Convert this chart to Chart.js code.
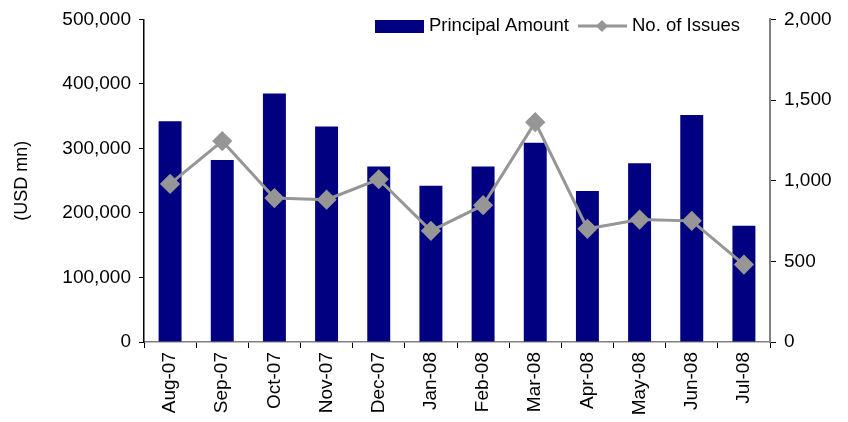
<!DOCTYPE html>
<html lang="en">
<head>
    <meta charset="UTF-8">
    <title>Principal Amount and No. of Issues</title>
    <style>
        body { margin: 0; background: #fff; }
    </style>
</head>
<body>
    <canvas id="issuesChart" width="848" height="422"></canvas>

    <script src="https://cdn.jsdelivr.net/npm/chart.js"></script>
    <script>
        // data
        const months = ['Aug-07', 'Sep-07', 'Oct-07', 'Nov-07', 'Dec-07', 'Jan-08',
                        'Feb-08', 'Mar-08', 'Apr-08', 'May-08', 'Jun-08', 'Jul-08'];
        const principalAmount = [342000, 282000, 385000, 334000, 272000, 242000,
                                 272000, 309000, 234000, 277000, 352000, 180000];
        const numberOfIssues = [980, 1246, 892, 882, 1009, 689,
                                848, 1363, 702, 759, 751, 480];

        const fontFamily = '"Liberation Sans", Arial, sans-serif';
        const barColor = '#000080';
        const lineColor = '#969696';

        // legend drawn inside the plot, top right
        const legendInside = {
            id: 'legendInside',
            afterDraw(chart) {
                const ctx = chart.ctx;
                ctx.save();
                ctx.font = '18.5px ' + fontFamily;
                ctx.textBaseline = 'middle';

                ctx.fillStyle = barColor;
                ctx.fillRect(375, 20, 49, 13);
                ctx.fillStyle = '#000';
                ctx.fillText('Principal Amount', 429, 26);

                ctx.strokeStyle = lineColor;
                ctx.lineWidth = 3;
                ctx.beginPath();
                ctx.moveTo(578, 26);
                ctx.lineTo(627, 26);
                ctx.stroke();
                ctx.fillStyle = lineColor;
                ctx.beginPath();
                ctx.moveTo(602, 20);
                ctx.lineTo(608, 26);
                ctx.lineTo(602, 32);
                ctx.lineTo(596, 26);
                ctx.closePath();
                ctx.fill();
                ctx.fillStyle = '#000';
                ctx.fillText('No. of Issues', 632, 26);
                ctx.restore();
            }
        };

        const ctx = document.getElementById('issuesChart').getContext('2d');
        new Chart(ctx, {
            data: {
                labels: months,
                datasets: [{
                    type: 'line',
                    label: 'No. of Issues',
                    data: numberOfIssues,
                    yAxisID: 'y1',
                    borderColor: lineColor,
                    backgroundColor: lineColor,
                    borderWidth: 3,
                    pointStyle: 'rectRot',
                    pointRadius: 8,
                    pointHoverRadius: 8,
                    tension: 0,
                    order: 0
                }, {
                    type: 'bar',
                    label: 'Principal Amount',
                    data: principalAmount,
                    yAxisID: 'y',
                    backgroundColor: barColor,
                    barPercentage: 0.44,
                    categoryPercentage: 1,
                    order: 1
                }]
            },
            options: {
                responsive: false,
                animation: false,
                layout: { padding: { top: 16, right: 0, left: 0, bottom: 0 } },
                plugins: {
                    legend: { display: false },
                    tooltip: { enabled: false }
                },
                scales: {
                    x: {
                        offset: true,
                        grid: {
                            offset: true,
                            drawOnChartArea: false,
                            drawTicks: true,
                            tickLength: 6,
                            color: '#000'
                        },
                        border: { color: '#808080', width: 1.5 },
                        ticks: {
                            color: '#000',
                            font: { family: fontFamily, size: 19 },
                            minRotation: 90,
                            maxRotation: 90,
                            padding: 4
                        },
                        afterFit(axis) { axis.height = 80; }
                    },
                    y: {
                        position: 'left',
                        min: 0,
                        max: 500000,
                        ticks: {
                            stepSize: 100000,
                            color: '#000',
                            font: { family: fontFamily, size: 19 },
                            padding: 8,
                            callback: v => v.toLocaleString('en-US')
                        },
                        grid: {
                            drawOnChartArea: false,
                            tickLength: 5,
                            color: '#000'
                        },
                        border: { color: '#000', width: 1.5 },
                        title: {
                            display: true,
                            text: '(USD mn)',
                            color: '#000',
                            font: { family: fontFamily, size: 18 },
                            padding: { top: 11, bottom: 0 }
                        },
                        afterFit(axis) { axis.width = 144; }
                    },
                    y1: {
                        position: 'right',
                        min: 0,
                        max: 2000,
                        ticks: {
                            stepSize: 500,
                            color: '#000',
                            font: { family: fontFamily, size: 19 },
                            padding: 8,
                            callback: v => v.toLocaleString('en-US')
                        },
                        grid: {
                            drawOnChartArea: false,
                            tickLength: 6,
                            color: '#000'
                        },
                        border: { color: '#808080', width: 2 },
                        afterFit(axis) { axis.width = 78; }
                    }
                }
            },
            plugins: [legendInside]
        });
    </script>
</body>
</html>
